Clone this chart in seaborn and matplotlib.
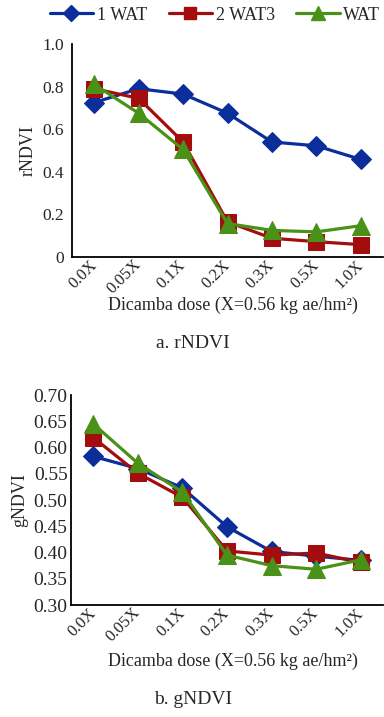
import matplotlib
matplotlib.use("Agg")
import matplotlib.pyplot as plt
import matplotlib.transforms as mtransforms
import seaborn as sns
import pandas as pd
import numpy as np
from matplotlib.lines import Line2D

sns.set_style("white")
plt.rcParams['font.family'] = ['Liberation Serif', 'DejaVu Serif']

doses = ["0.0X", "0.05X", "0.1X", "0.2X", "0.3X", "0.5X", "1.0X"]
series_names = ["1 WAT", "2 WAT3", "WAT"]

rndvi_1wat = [0.725, 0.79, 0.765, 0.675, 0.54, 0.522, 0.458]
rndvi_2wat3 = [0.79, 0.745, 0.54, 0.165, 0.088, 0.072, 0.058]
rndvi_wat = [0.81, 0.675, 0.505, 0.157, 0.125, 0.118, 0.147]

gndvi_1wat = [0.583, 0.56, 0.523, 0.449, 0.402, 0.393, 0.385]
gndvi_2wat3 = [0.619, 0.551, 0.505, 0.403, 0.395, 0.399, 0.381]
gndvi_wat = [0.645, 0.57, 0.515, 0.395, 0.375, 0.368, 0.386]

colors = ["#0b2e9b", "#a30d0d", "#4a9118"]
markers = ["D", "s", "^"]
msizes = [10.5, 11.5, 12.5]

def make_df(vals):
    rows = []
    for name, v in zip(series_names, vals):
        for d, y in zip(doses, v):
            rows.append({"dose": d, "value": y, "series": name})
    return pd.DataFrame(rows)

fig = plt.figure(figsize=(3.84, 7.17), dpi=100)
ax1 = fig.add_axes([72/384, 1-257/717, (383-72)/384, (257-44)/717])
ax2 = fig.add_axes([71/384, 1-605/717, (383-71)/384, (605-395)/717])

def draw(ax, vals, ylabel, ylim, yticks, yticklabels, ytick_fs, ypad,
         xlabel_y, caption, cap_y):
    df = make_df(vals)
    df["x"] = df["dose"].map({d: i for i, d in enumerate(doses)})
    for name, c, m, ms in zip(series_names, colors, markers, msizes):
        sub = df[df["series"] == name]
        sns.lineplot(data=sub, x="x", y="value", ax=ax, color=c, marker=m,
                     markersize=ms, markeredgecolor=c, linewidth=2.3,
                     legend=False, zorder=3)
    ax.set_xlim(-0.5, 6.5)
    ax.set_ylim(*ylim)
    ax.set_yticks(yticks)
    ax.set_yticklabels(yticklabels, fontsize=ytick_fs)
    ax.set_xticks(range(len(doses)))
    ax.set_xticklabels(doses, rotation=45, ha="right", va="center",
                       rotation_mode="anchor", fontsize=12)
    offset = mtransforms.ScaledTranslation(10/100, 0, fig.dpi_scale_trans)
    for lab in ax.get_xticklabels():
        lab.set_transform(lab.get_transform() + offset)
    ax.set_xticks(np.arange(0.5, 7.0, 1.0), minor=True)
    ax.tick_params(axis="x", which="major", length=0, pad=4)
    ax.tick_params(axis="x", which="minor", direction="in", length=5, width=1.2, color="black")
    ax.tick_params(axis="y", direction="in", length=4, width=1.2, color="black", pad=ypad)
    for s in ["top", "right"]:
        ax.spines[s].set_visible(False)
    for s in ["left", "bottom"]:
        ax.spines[s].set_color("black")
        ax.spines[s].set_linewidth(1.3)
    ax.set_ylabel(ylabel, fontsize=13, labelpad=4)
    ax.set_xlabel("")
    fig.text(233/384, 1-xlabel_y/717, "Dicamba dose (X=0.56 kg ae/hm²)",
             ha="center", va="center", fontsize=13)
    fig.text(193/384, 1-cap_y/717, caption, ha="center", va="center", fontsize=14)

draw(ax1, [rndvi_1wat, rndvi_2wat3, rndvi_wat], "rNDVI", (0, 1.0),
     [0, 0.2, 0.4, 0.6, 0.8, 1.0], ["0", "0.2", "0.4", "0.6", "0.8", "1.0"],
     12.5, 6, 305, "a. rNDVI", 343)
draw(ax2, [gndvi_1wat, gndvi_2wat3, gndvi_wat], "gNDVI", (0.30, 0.70),
     [0.30, 0.35, 0.40, 0.45, 0.50, 0.55, 0.60, 0.65, 0.70],
     ["0.30", "0.35", "0.40", "0.45", "0.50", "0.55", "0.60", "0.65", "0.70"],
     14, 2.5, 661, "b. gNDVI", 700)

handles = [Line2D([0], [0], color=c, marker=m, markersize=ms*0.75, linewidth=2.3,
                  markeredgecolor=c) for c, m, ms in zip(colors, markers, msizes)]
fig.legend(handles, series_names, loc="center", bbox_to_anchor=(215/384, 1-15/717),
           ncol=3, frameon=False, fontsize=13, handlelength=2.4, handletextpad=0.2,
           columnspacing=1.2)

fig.savefig("out.png", dpi=100)
